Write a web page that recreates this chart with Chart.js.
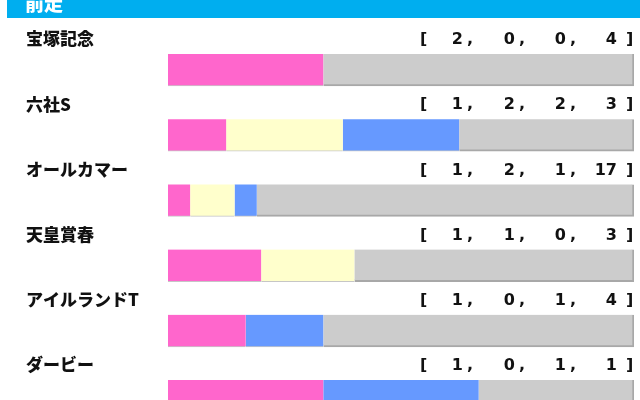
<!DOCTYPE html>
<html>
<head>
<meta charset="utf-8">
<script src="https://cdn.jsdelivr.net/npm/chart.js@4"></script>
<style>
html,body{margin:0;padding:0;background:#fff;overflow:hidden;width:640px;height:400px;}
#wrap{position:absolute;left:0;top:0;width:640px;height:440px;}
</style>
</head>
<body>
<div id="wrap"><canvas id="c" width="640" height="440"></canvas></div>
<script>
const title = "前走";
const races = ["宝塚記念", "六社S", "オールカマー", "天皇賞春", "アイルランドT", "ダービー"];
const firsts = [2, 1, 1, 1, 1, 1];
const seconds = [0, 2, 2, 1, 0, 0];
const thirds = [0, 2, 1, 0, 1, 1];
const others = [4, 3, 17, 3, 4, 1];
const seriesNames = ["1着", "2着", "3着", "着外"];
const seriesColors = ["#FF66CC", "#FFFFCC", "#6699FF", "#CCCCCC"];

const series = [firsts, seconds, thirds, others];
const totals = races.map((_, i) => series.reduce((s, a) => s + a[i], 0));
const pct = arr => arr.map((v, i) => v / totals[i] * 100);

const textPlugin = {
  id: 'texts',
  afterDraw(chart) {
    const ctx = chart.ctx;
    const yScale = chart.scales.y;
    ctx.save();
    // header
    ctx.fillStyle = '#00AEEF';
    ctx.fillRect(7, 0, 633, 18);
    ctx.fillStyle = '#ffffff';
    ctx.font = '900 19px "Noto Sans CJK JP", sans-serif';
    ctx.textAlign = 'left';
    ctx.textBaseline = 'alphabetic';
    ctx.fillText(title, 25, 11);
    races.forEach((name, i) => {
      const yc = yScale.getPixelForValue(i) - 32;
      ctx.fillStyle = '#111111';
      ctx.font = '900 17px "Noto Sans CJK JP", sans-serif';
      ctx.textAlign = 'left';
      ctx.textBaseline = 'middle';
      ctx.fillText(name, 26, yc + 1);
      ctx.font = 'bold 16px "DejaVu Sans", sans-serif';
      ctx.fillText('[', 420, yc + 2);
      ctx.fillText(']', 626, yc + 2);
      const vals = [firsts[i], seconds[i], thirds[i], others[i]];
      const rights = [463, 515, 566, 617];
      vals.forEach((v, k) => {
        ctx.textAlign = 'right';
        ctx.fillText(String(v), rights[k], yc + 2);
        if (k < 3) {
          ctx.textAlign = 'left';
          ctx.fillText(',', rights[k] + 4, yc + 2);
        }
      });
    });
    ctx.restore();
  }
};

new Chart(document.getElementById('c'), {
  type: 'bar',
  data: {
    labels: races,
    datasets: series.map((arr, k) => ({
      label: seriesNames[k],
      data: pct(arr),
      backgroundColor: seriesColors[k],
      borderColor: k === 3 ? '#A8A8A8' : 'rgba(160,160,160,0.6)',
      borderWidth: k === 3 ? {top: 0, left: 0, right: 2, bottom: 2} : {top: 0, left: 0, right: 0, bottom: 1},
      borderSkipped: false,
      barThickness: 32
    }))
  },
  options: {
    indexAxis: 'y',
    responsive: false,
    animation: false,
    layout: {padding: {left: 168, right: 6, top: 37.4, bottom: 11.4}},
    plugins: {legend: {display: false}, tooltip: {enabled: false}},
    scales: {
      x: {stacked: true, min: 0, max: 100, display: false},
      y: {stacked: true, display: false}
    }
  },
  plugins: [textPlugin]
});
</script>
</body>
</html>
